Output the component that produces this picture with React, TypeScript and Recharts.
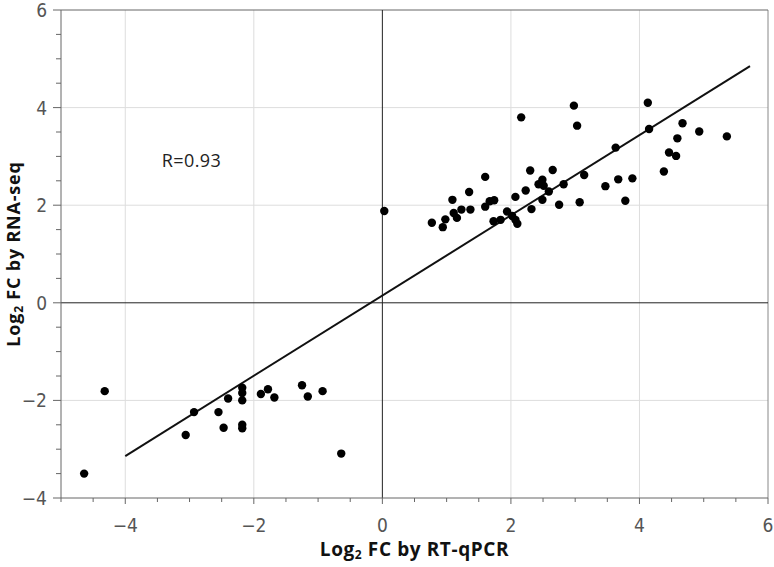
import { ScatterChart, Scatter, XAxis, YAxis, ReferenceLine, ReferenceDot } from 'recharts'

// Log2 FC values
const rtqpcr = [
  -4.64, -4.32, -3.06, -2.93, -2.55, -2.47, -2.40, -2.18, -2.18, -2.18, -2.18, -2.18,
  -1.89, -1.78, -1.68, -1.25, -1.16, -0.93, -0.64,
  0.03,
  0.77, 0.94, 0.98, 1.09, 1.11, 1.16, 1.23, 1.35, 1.37, 1.6, 1.6, 1.67, 1.74, 1.73, 1.84,
  1.94, 2.02, 2.07, 2.1, 2.07, 2.16, 2.23, 2.3, 2.32, 2.43, 2.49, 2.51, 2.49, 2.59, 2.65,
  2.75, 2.82, 2.98, 3.03, 3.07, 3.14,
  3.47, 3.63, 3.67, 3.78, 3.89, 4.13, 4.15, 4.38, 4.46, 4.57, 4.59, 4.67, 4.93, 5.36,
]
const rnaseq = [
  -3.5, -1.81, -2.71, -2.24, -2.24, -2.56, -1.96, -1.74, -1.85, -2.0, -2.5, -2.57,
  -1.87, -1.77, -1.94, -1.69, -1.92, -1.81, -3.09,
  1.88,
  1.64, 1.55, 1.71, 2.11, 1.84, 1.74, 1.91, 2.27, 1.91, 2.58, 1.97, 2.08, 2.1, 1.67, 1.7,
  1.87, 1.78, 1.7, 1.62, 2.17, 3.8, 2.3, 2.71, 1.92, 2.43, 2.52, 2.4, 2.11, 2.28, 2.72,
  2.01, 2.43, 4.04, 3.63, 2.06, 2.62,
  2.39, 3.18, 2.53, 2.09, 2.55, 4.1, 3.56, 2.69, 3.08, 3.01, 3.37, 3.68, 3.51, 3.41,
]
// fitted line end points
const fitX = [-4, 5.72]
const fitY = [-3.14, 4.85]

const xTicks = [-5, -4.5, -4, -3.5, -3, -2.5, -2, -1.5, -1, -0.5, 0, 0.5, 1, 1.5, 2, 2.5, 3, 3.5, 4, 4.5, 5, 5.5, 6]
const yTicks = [-4, -3.5, -3, -2.5, -2, -1.5, -1, -0.5, 0, 0.5, 1, 1.5, 2, 2.5, 3, 3.5, 4, 4.5, 5, 5.5, 6]
const xGrid = [-4, -2, 2, 4]
const yGrid = [-2, 2, 4]

const points = rtqpcr.map((x, i) => ({ x, y: rnaseq[i] }))
const fit = fitX.map((x, i) => ({ x, y: fitY[i] }))

const tickFont = "'DejaVu Sans', sans-serif"
const labelFont = "'Open Sans', 'Noto Sans', sans-serif"

const fmt = (v: number) => (v < 0 ? '\u2212' + Math.abs(v) : String(v))

function XTick({ x, y, payload }: any) {
  const major = payload.value % 2 === 0
  return (
    <g>
      <line x1={x} y1={y} x2={x} y2={y + (major ? 6 : 4)} stroke="#666" />
      {major && (
        <text x={x} y={y + 34} textAnchor="middle" fill="#555" fontSize={19} fontFamily={tickFont} style={{ fontStretch: 'condensed' }}>
          {fmt(payload.value)}
        </text>
      )}
    </g>
  )
}

function YTick({ x, y, payload }: any) {
  const major = payload.value % 2 === 0
  return (
    <g>
      <line x1={x - (major ? 8 : 5)} y1={y} x2={x} y2={y} stroke="#666" />
      {major && (
        <text x={x - 14} y={y + 7} textAnchor="end" fill="#555" fontSize={19} fontFamily={tickFont} style={{ fontStretch: 'condensed' }}>
          {fmt(payload.value)}
        </text>
      )}
    </g>
  )
}

function XTitle({ viewBox }: any) {
  const cx = viewBox.x + viewBox.width / 2
  return (
    <text x={cx} y={556} textAnchor="middle" fontSize={19} letterSpacing={0.6} fontWeight="bold" fontFamily={labelFont} fill="#111">
      Log<tspan fontSize={12} dy={3}>2</tspan>
      <tspan dy={-3}> FC by RT-qPCR</tspan>
    </text>
  )
}

function YTitle({ viewBox }: any) {
  const cx = 20
  const cy = viewBox.y + viewBox.height / 2
  return (
    <text x={cx} y={cy} transform={`rotate(-90, ${cx}, ${cy})`} textAnchor="middle" fontSize={18} letterSpacing={0.8} fontWeight="bold" fontFamily={labelFont} fill="#111">
      Log<tspan fontSize={12} dy={3}>2</tspan>
      <tspan dy={-3}> FC by RNA-seq</tspan>
    </text>
  )
}

export default function App() {
  return (
    <div style={{ position: 'absolute', left: 0, top: 0, background: '#fff' }}>
      <ScatterChart width={774} height={567} margin={{ top: 10, right: 6, bottom: 0, left: 0 }}>
        <XAxis
          type="number"
          dataKey="x"
          domain={[-5, 6]}
          ticks={xTicks}
          interval={0}
          height={69}
          tickSize={0}
          tickMargin={0}
          tickLine={false}
          stroke="#666"
          tick={<XTick />}
          label={<XTitle />}
          allowDataOverflow
        />
        <YAxis
          type="number"
          dataKey="y"
          domain={[-4, 6]}
          ticks={yTicks}
          interval={0}
          width={61}
          tickSize={0}
          tickMargin={0}
          tickLine={false}
          stroke="#666"
          tick={<YTick />}
          label={<YTitle />}
          allowDataOverflow
        />
        {xGrid.map((v) => (
          <ReferenceLine key={'gx' + v} x={v} stroke="#ddd" strokeWidth={1} />
        ))}
        {yGrid.map((v) => (
          <ReferenceLine key={'gy' + v} y={v} stroke="#ddd" strokeWidth={1} />
        ))}
        <ReferenceLine x={6} stroke="#888" strokeWidth={1} />
        <ReferenceLine y={6} stroke="#666" strokeWidth={1} />
        <ReferenceLine x={0} stroke="#222" strokeWidth={1} />
        <ReferenceLine y={0} stroke="#222" strokeWidth={1} />
        <ReferenceDot
          x={-2.97}
          y={2.91}
          r={0}
          stroke="none"
          label={{ value: 'R=0.93', position: 'center', fontSize: 18, letterSpacing: 0.4, fill: '#222', fontFamily: labelFont }}
        />
        <Scatter data={fit} line={{ stroke: '#111', strokeWidth: 2 }} shape={() => null} isAnimationActive={false} />
        <Scatter data={points} fill="#000" shape={(p: any) => <circle cx={p.cx} cy={p.cy} r={4.2} fill="#000" />} isAnimationActive={false} />
      </ScatterChart>
    </div>
  )
}
